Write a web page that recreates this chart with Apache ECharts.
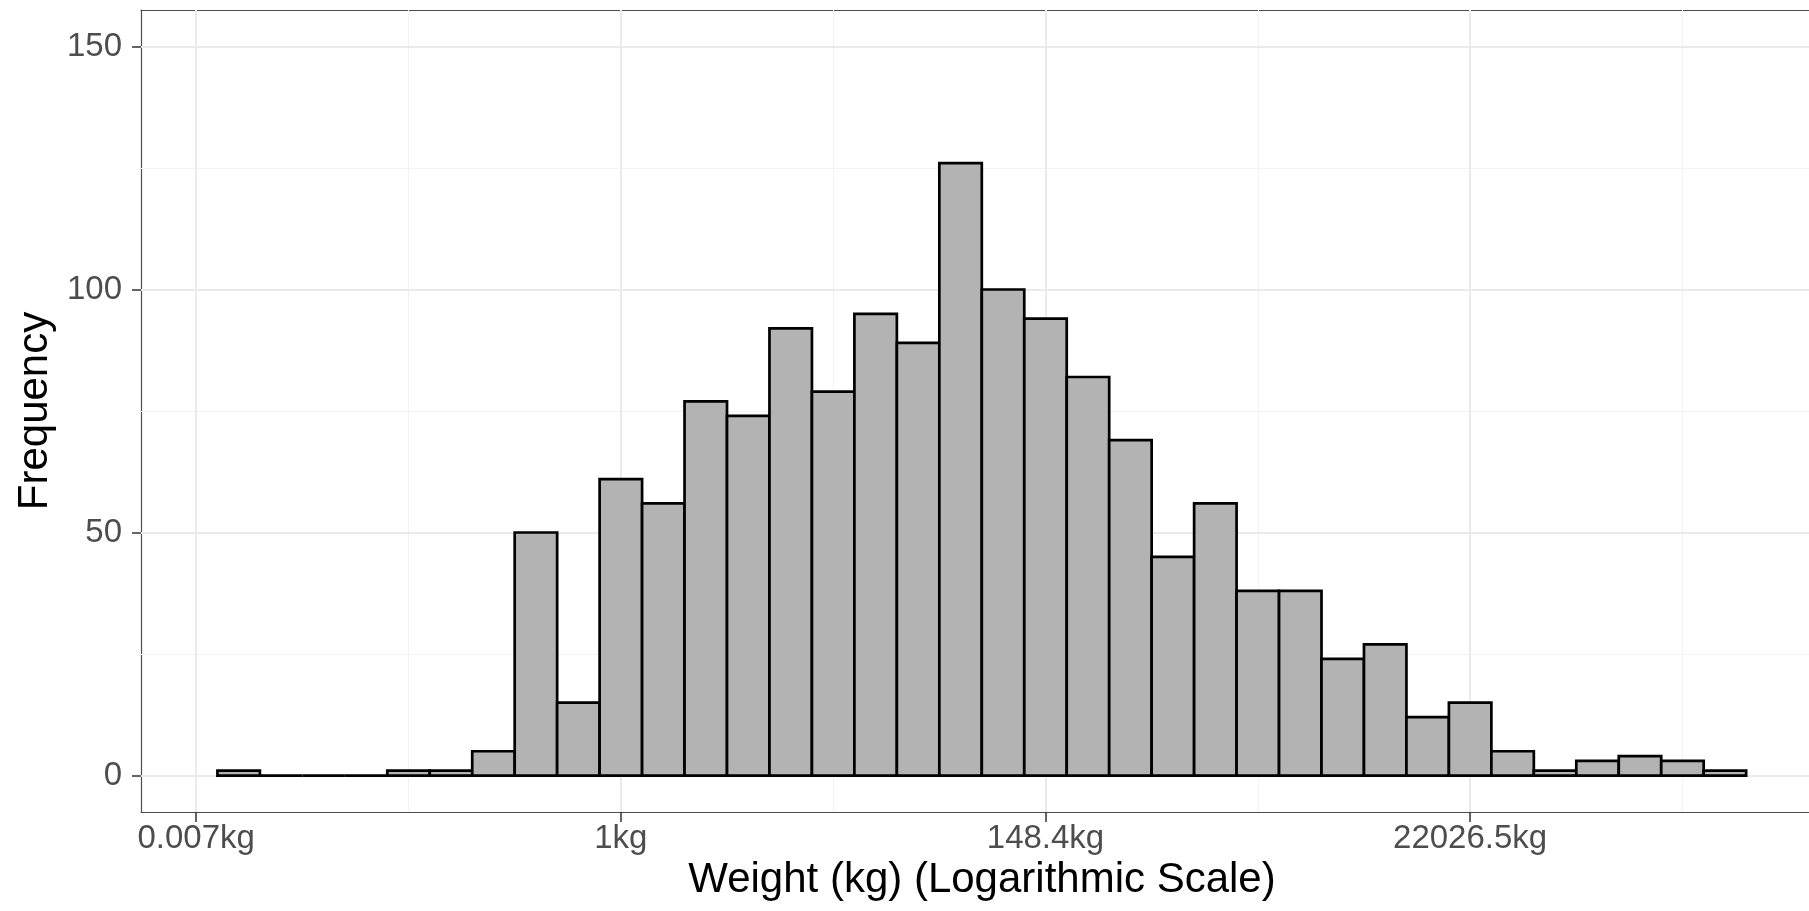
<!DOCTYPE html>
<html>
<head>
<meta charset="utf-8">
<script src="https://cdn.jsdelivr.net/npm/echarts@6/dist/echarts.min.js"></script>
<style>
  html, body { margin: 0; padding: 0; background: #ffffff; }
  #chart { width: 1809px; height: 911px; }
</style>
</head>
<body>
<div id="chart"></div>
<script>
// Bin edges on the natural-log (ln kg) scale
const binEdges = [-4.75, -4.25, -3.75, -3.25, -2.75, -2.25, -1.75, -1.25, -0.75, -0.25,
                  0.25, 0.75, 1.25, 1.75, 2.25, 2.75, 3.25, 3.75, 4.25, 4.75,
                  5.25, 5.75, 6.25, 6.75, 7.25, 7.75, 8.25, 8.75, 9.25, 9.75,
                  10.25, 10.75, 11.25, 11.75, 12.25, 12.75, 13.25];
// Frequency of each bin
const counts = [1, 0, 0, 0, 1, 1, 5, 50, 15, 61, 56, 77, 74, 92, 79, 95, 89, 126,
                100, 94, 82, 69, 45, 56, 38, 38, 24, 27, 12, 15, 5, 1, 3, 4, 3, 1];
// X-axis ticks (ln kg) and their labels
const xTickValues = [-5, 0, 5, 10];
const xTickLabels = ['0.007kg', '1kg', '148.4kg', '22026.5kg'];
const xMinorValues = [-2.5, 2.5, 7.5, 12.5];
// Y-axis ticks
const yTickValues = [0, 50, 100, 150];
const yMinorValues = [25, 75, 125];

// visible window of the (right-cropped) panel
const xRange = [-5.65, 13.99];
const yRange = [-7.5, 157.5];

const FONT = '"Liberation Sans", Arial, Helvetica, sans-serif';

const barData = counts.map((c, i) => [binEdges[i], binEdges[i + 1], c]);

const gridMajor = { color: '#EBEBEB', width: 2, type: 'solid' };
const gridMinor = { color: '#F3F3F3', width: 1, type: 'solid' };
const borderStyle = { color: '#4D4D4D', width: 1.2 };

const markLineData = [];
xMinorValues.forEach(v => markLineData.push({ xAxis: v, lineStyle: gridMinor }));
yMinorValues.forEach(v => markLineData.push({ yAxis: v, lineStyle: gridMinor }));
xTickValues.forEach(v => markLineData.push({ xAxis: v, lineStyle: gridMajor }));
yTickValues.forEach(v => markLineData.push({ yAxis: v, lineStyle: gridMajor }));

const chart = echarts.init(document.getElementById('chart'), null, { renderer: 'canvas' });

chart.setOption({
  backgroundColor: '#ffffff',
  animation: false,
  grid: {
    left: 141, right: 0, top: 10, bottom: 99,
    show: false,
    containLabel: false
  },
  xAxis: [
    {
      type: 'value',
      position: 'bottom',
      min: xRange[0], max: xRange[1],
      name: 'Weight (kg) (Logarithmic Scale)',
      nameLocation: 'middle',
      nameGap: 45,
      nameTextStyle: { fontFamily: FONT, fontSize: 42, color: '#000000', padding: [0, 0, 0, 14] },
      axisLine: { show: true, onZero: false, lineStyle: borderStyle },
      axisTick: { show: true, length: 10, customValues: xTickValues, lineStyle: { color: '#333333', width: 1.5 } },
      axisLabel: {
        show: true, customValues: xTickValues, margin: 10,
        fontFamily: FONT, fontSize: 33, color: '#4D4D4D',
        formatter: v => { const i = xTickValues.indexOf(v); return i >= 0 ? xTickLabels[i] : ''; }
      },
      splitLine: { show: false }
    },
    {
      type: 'value',
      position: 'top',
      min: xRange[0], max: xRange[1],
      axisLine: { show: true, onZero: false, lineStyle: borderStyle },
      axisTick: { show: false },
      axisLabel: { show: false },
      splitLine: { show: false }
    }
  ],
  yAxis: {
    type: 'value',
    min: yRange[0], max: yRange[1],
    name: 'Frequency',
    nameLocation: 'middle',
    nameGap: 80,
    nameRotate: 90,
    nameTextStyle: { fontFamily: FONT, fontSize: 42, color: '#000000' },
    axisLine: { show: true, onZero: false, lineStyle: borderStyle },
    axisTick: { show: true, length: 9, customValues: yTickValues, lineStyle: { color: '#333333', width: 1.5 } },
    axisLabel: {
      show: true, customValues: yTickValues, margin: 19,
      fontFamily: FONT, fontSize: 33, color: '#4D4D4D'
    },
    splitLine: { show: false }
  },
  series: [
    {
      type: 'line',
      data: [],
      silent: true,
      showSymbol: false,
      z: 1,
      markLine: {
        silent: true,
        symbol: ['none', 'none'],
        label: { show: false },
        animation: false,
        data: markLineData
      }
    },
    {
      type: 'custom',
      z: 5,
      clip: true,
      data: barData,
      encode: { x: [0, 1], y: 2 },
      renderItem: function (params, api) {
        const p0 = api.coord([api.value(0), 0]);
        const p1 = api.coord([api.value(1), api.value(2)]);
        return {
          type: 'rect',
          shape: { x: p0[0], y: p1[1], width: p1[0] - p0[0], height: p0[1] - p1[1] },
          style: { fill: '#B3B3B3', stroke: '#000000', lineWidth: 2.7 }
        };
      }
    }
  ]
});
</script>
</body>
</html>
